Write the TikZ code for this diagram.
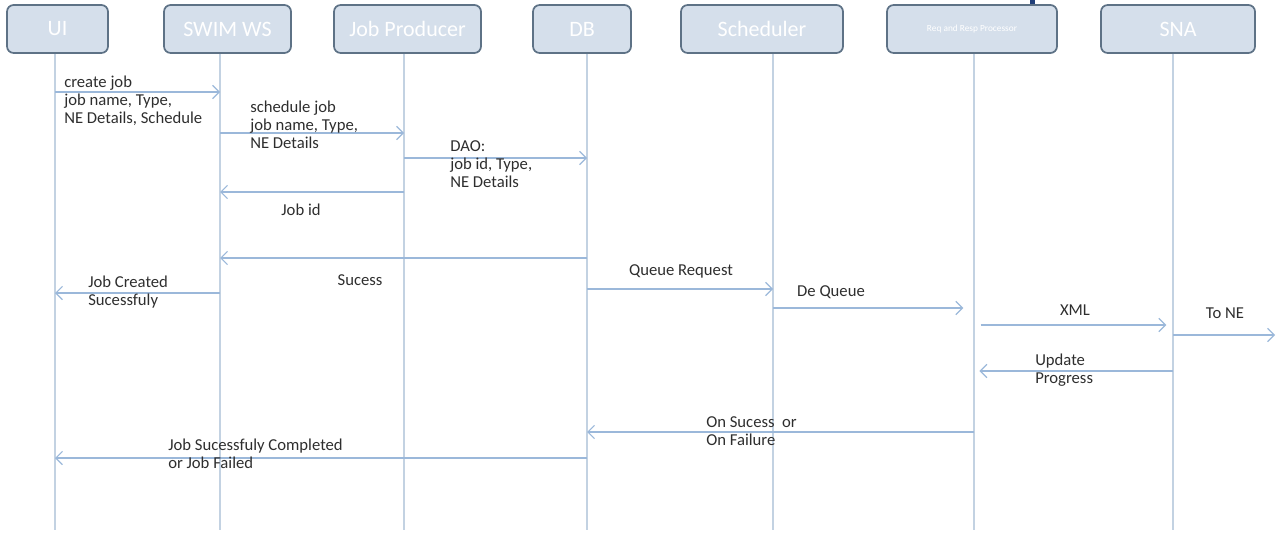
\documentclass[tikz,border=0pt]{standalone}
\usepackage{fontspec}
\setmainfont{Carlito}
\usepackage{tikz}
\usetikzlibrary{arrows.meta,positioning}

\definecolor{boxfill}{HTML}{D5DFEB}
\definecolor{boxline}{HTML}{5E7286}
\definecolor{lifeline}{HTML}{C3D2E2}
\definecolor{msgline}{HTML}{9BB8DA}
\definecolor{msgtext}{HTML}{2E2E2E}
\definecolor{titleblue}{HTML}{1F3E78}

\tikzset{
  actor/.style={draw=boxline, line width=1.3pt, fill=boxfill, rounded corners=5pt,
    minimum height=36pt, inner sep=2pt, text=white, font=\fontsize{16.5}{16.5}\selectfont},
  life/.style={draw=lifeline, line width=0.8pt},
  msg/.style={draw=msgline, line width=0.9pt, -{Straight Barb[length=5pt,width=10pt]}},
  lbl/.style={text=msgtext, font=\fontsize{12.5}{13.5}\selectfont, align=left, inner sep=0pt},
}

\begin{document}
\begin{tikzpicture}[x=0.75pt,y=-0.75pt]
	\useasboundingbox (0,0) rectangle (1276,535);
	\fill[titleblue] (1030,0) rectangle (1035,5);

	% participants
	\node[actor, minimum width=75.75pt] (ui) at (57.5,29) {UI};
	\node[actor, minimum width=95.25pt] (sw) at (227.5,29) {SWIM WS};
	\node[actor, minimum width=110.25pt] (jp) at (407.5,29) {Job Producer};
	\node[actor, minimum width=73.5pt] (db) at (582,29) {DB};
	\node[actor, minimum width=121.5pt] (sc) at (762,29) {Scheduler};
	\node[actor, minimum width=127.5pt, font=\fontsize{7}{7}\selectfont] (rp) at (972,29) {Req and Resp Processor};
	\node[actor, minimum width=115.5pt] (sna) at (1178,29) {SNA};

	% lifelines
	\coordinate (bottom) at (0,530);
	\foreach \p/\x in {ui/55, sw/220, jp/404, db/587, sc/773, rp/974, sna/1173} {
	  \coordinate (\p-top) at (\p.south -| \x,0);
	  \draw[life] (\p-top) -- (\p-top |- bottom);
	}

	% message levels
	\coordinate (m1) at (0,92);
	\coordinate (m2) at (0,133);
	\coordinate (m3) at (0,158);
	\coordinate (m4) at (0,192);
	\coordinate (m5) at (0,258);
	\coordinate (m6) at (0,293);
	\coordinate (m7) at (0,289);
	\coordinate (m8) at (0,308);
	\coordinate (m9) at (0,325);
	\coordinate (m10) at (0,335);
	\coordinate (m11) at (0,371);
	\coordinate (m12) at (0,432);
	\coordinate (m13) at (0,458);
	\coordinate (ne) at (1275,335);

	\draw[msg] (ui-top |- m1) -- (sw-top |- m1);
	\draw[msg] (sw-top |- m2) -- (jp-top |- m2);
	\draw[msg] (jp-top |- m3) -- (db-top |- m3);
	\draw[msg] (jp-top |- m4) -- (sw-top |- m4);
	\draw[msg] (db-top |- m5) -- (sw-top |- m5);
	\draw[msg] (sw-top |- m6) -- (ui-top |- m6);
	\draw[msg] (db-top |- m7) -- (sc-top |- m7);
	\draw[msg, shorten >=8pt] (sc-top |- m8) -- (rp-top |- m8);
	\draw[msg, shorten <=5pt, shorten >=5pt] (rp-top |- m9) -- (sna-top |- m9);
	\draw[msg] (sna-top |- m10) -- (ne);
	\draw[msg, shorten >=4pt] (sna-top |- m11) -- (rp-top |- m11);
	\draw[msg] (rp-top |- m12) -- (db-top |- m12);
	\draw[msg] (db-top |- m13) -- (ui-top |- m13);

	% labels
	\node[lbl, anchor=north west] (l1) at (64,76) {create job\\job name, Type,\\NE Details, Schedule};
	\node[lbl, anchor=north west] (l2) at (250,101) {schedule job\\job name, Type,\\NE Details};
	\node[lbl, anchor=north west] (l3) at (450,140) {DAO:\\job id, Type,\\NE Details};
	\node[lbl] (l4) at (301,210) {Job id};
	\node[lbl] (l5) at (360,280) {Sucess};
	\node[lbl, anchor=north west] (l6) at (88,276) {Job Created\\Sucessfuly};
	\node[lbl] (l7) at (681,271) {Queue Request};
	\node[lbl] (l8) at (831,292) {De Queue};
	\node[lbl] (l9) at (1075,310) {XML};
	\node[lbl] (l10) at (1225,313) {To NE};
	\node[lbl, anchor=north west] (l11) at (1035,354) {Update\\Progress};
	\node[lbl, anchor=north west] (l12) at (706,416) {On Sucess~~or\\On Failure};
	\node[lbl, anchor=north west] (l13) at (168,439) {Job Sucessfuly Completed\\or Job Failed};
\end{tikzpicture}
\end{document}
